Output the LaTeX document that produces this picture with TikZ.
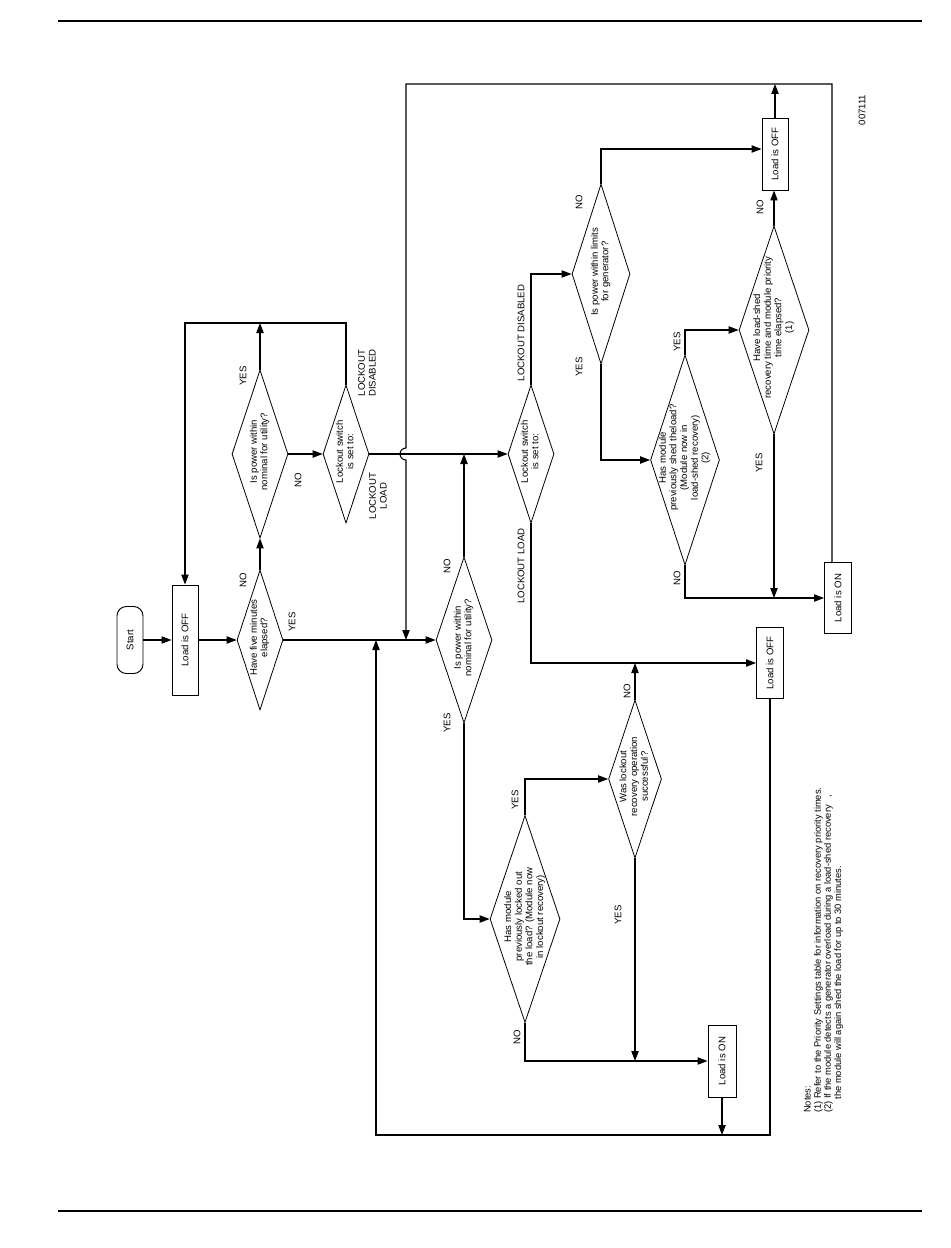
\documentclass[tikz,border=0pt]{standalone}
\usepackage{fontspec}
\setmainfont{Liberation Sans}
\usepackage{graphicx}
\usepackage{tikz}
\usetikzlibrary{arrows.meta,shapes.geometric}

\newcommand{\flowq}[1]{\smash{\makebox[0pt]{\rotatebox[origin=c]{90}{\begin{tabular}{@{}c@{}}#1\end{tabular}}}}}

\tikzset{
  flowbox/.style={draw, rectangle, inner sep=0pt, line width=0.7pt, minimum width=19.5pt},
  flowq/.style={draw, diamond, inner sep=0pt, line width=0.6pt},
  flowlbl/.style={rotate=90, inner sep=0pt, align=center},
  flowline/.style={line width=0.8pt, -{Triangle[length=7.5pt,width=5.5pt]}},
}

\begin{document}
\begin{tikzpicture}[x=0.75pt,y=0.75pt,yscale=-1,xscale=1,font=\fontsize{7.2}{8}\selectfont]
\useasboundingbox (0,0) rectangle (950,1248);

%Straight Lines: page rules
\draw [line width=1.5pt] (58,21.5) -- (922,21.5) ;
\draw [line width=1.5pt] (58,1211) -- (922,1211) ;

%Shape: Rounded Rect
\node [flowbox, rounded corners=7pt, minimum height=50.25pt] (start) at (130,640) {\rotatebox{90}{Start}};
%Shape: Rectangle
\node [flowbox, minimum height=82.5pt] (off1) at (185,640) {\rotatebox{90}{Load is OFF}};
%Shape: Diamond
\node [flowq, minimum width=34.5pt, minimum height=105pt] (d5min) at (260,640) {\flowq{Have five minutes\\elapsed?}};
%Shape: Diamond
\node [flowq, minimum width=42pt, minimum height=126pt] (dutil1) at (260,454) {\flowq{Is power within\\nominal for utility?}};
%Shape: Diamond
\node [flowq, minimum width=34.5pt, minimum height=103.5pt] (dsw1) at (346,454) {\flowq{Lockout switch\\is set to:}};
%Shape: Diamond
\node [flowq, minimum width=42pt, minimum height=124.5pt] (dutil2) at (464,640) {\flowq{Is power within\\nominal for utility?}};
%Shape: Diamond
\node [flowq, minimum width=34.5pt, minimum height=103.5pt] (dsw2) at (531,454) {\flowq{Lockout switch\\is set to:}};
%Shape: Diamond
\node [flowq, minimum width=43.5pt, minimum height=135pt] (dgen) at (601,274) {\flowq{Is power within limits\\for generator?}};
%Shape: Diamond
\node [flowq, minimum width=51.75pt, minimum height=157.5pt] (dshed) at (685,460) {\flowq{Has module\\previously shed theload?\\(Module now in\\load-shed recovery)\\(2)}};
%Shape: Diamond
\node [flowq, minimum width=52.5pt, minimum height=156pt] (dtime) at (774,330) {\flowq{Have load-shed\\recovery time and module priority\\time elapsed?\\(1)}};
%Shape: Rectangle
\node [flowbox, minimum height=54pt] (offtop) at (775,154) {\rotatebox{90}{Load is OFF}};
%Shape: Rectangle
\node [flowbox, minimum width=20.25pt, minimum height=53.25pt] (ontop) at (838,598) {\rotatebox{90}{Load is ON}};
%Shape: Rectangle
\node [flowbox, minimum width=20.25pt, minimum height=53.25pt] (offlow) at (770,663) {\rotatebox{90}{Load is OFF}};
%Shape: Diamond
\node [flowq, minimum width=52.5pt, minimum height=155.25pt] (dlock) at (525,919) {\flowq{Has module\\previously locked out\\the load? (Module now\\in lockout recovery)}};
%Shape: Diamond
\node [flowq, minimum width=39.75pt, minimum height=118.5pt] (drec) at (635,779) {\flowq{Was lockout\\recovery operation\\successful?}};
%Shape: Rectangle
\node [flowbox, minimum width=21pt, minimum height=54pt] (onlow) at (722,1061) {\rotatebox{90}{Load is ON}};

%Corner points
\coordinate (ltop) at (185,323) ;
\coordinate (rtop) at (832,84) ;
\coordinate (ltop2) at (406,84) ;
\coordinate (jmain) at (406,640) ;
\coordinate (lbot) at (376,1135) ;

%Straight Lines
\draw [flowline] (start.east) -- (off1.west) ;
\draw [flowline] (off1.east) -- (d5min.west) ;
\draw [flowline] (d5min.north) -- (dutil1.south) ;
\draw [flowline] (dutil1.north) -- (dutil1.north |- ltop) ;
\draw [flowline] (dsw1.north) |- (ltop) -- (off1.north) ;
\draw [flowline] (dutil1.east) -- (dsw1.west) ;
\draw [flowline] (dsw1.east) -- (dsw2.west) ;
\draw [flowline] (d5min.east) -- (dutil2.west) ;
\draw [flowline] (dutil2.north) -- (dutil2.north |- dsw1.east) ;
\draw [flowline] (ontop.north -| rtop) -- (rtop) -- (ltop2) -- (406,448) arc (270:90:6) -- (jmain) ;
\draw [flowline] (dsw2.north) |- (dgen.west) ;
\draw [flowline] (dgen.north) |- ([yshift=-3.75pt]offtop.west) ;
\draw [flowline] (offtop.north) -- (offtop.north |- ltop2) ;
\draw [flowline] (dgen.south) |- (dshed.west) ;
\draw [flowline] (dshed.north) |- (dtime.west) ;
\draw [flowline] (dtime.north) -- (dtime.north |- offtop.south) ;
\draw [flowline] (dtime.south) -- (dtime.south |- ontop.west) ;
\draw [flowline] (dshed.south) |- (ontop.west) ;
\draw [flowline] (dsw2.south) |- (offlow.west) ;
\draw [flowline] (drec.north) -- (drec.north |- offlow.west) ;
\draw [flowline] (dutil2.south) |- (dlock.west) ;
\draw [flowline] (dlock.north) |- (drec.west) ;
\draw [flowline] (drec.south) -- (drec.south |- onlow.west) ;
\draw [flowline] (dlock.south) |- (onlow.west) ;
\draw [flowline] (onlow.south) -- (onlow.south |- lbot) ;
\draw [flowline] (offlow.south) |- (lbot) -- (lbot |- d5min.east) ;

%Labels
\node [flowlbl] (l1) at (243,580) {NO};
\node [flowlbl] (l2) at (292,622) {YES};
\node [flowlbl] (l3) at (243,376) {YES};
\node [flowlbl] (l4) at (298,480) {NO};
\node [flowlbl] (l5) at (367,373) {LOCKOUT\\DISABLED};
\node [flowlbl] (l6) at (378,496) {LOCKOUT\\LOAD};
\node [flowlbl] (l7) at (447,566) {NO};
\node [flowlbl] (l8) at (447,723) {YES};
\node [flowlbl] (l9) at (521,333) {LOCKOUT DISABLED};
\node [flowlbl] (l10) at (521,566) {LOCKOUT LOAD};
\node [flowlbl] (l11) at (579,202) {NO};
\node [flowlbl] (l12) at (579,367) {YES};
\node [flowlbl] (l13) at (677,342) {YES};
\node [flowlbl] (l14) at (677,578) {NO};
\node [flowlbl] (l15) at (760,207) {NO};
\node [flowlbl] (l16) at (759,463) {YES};
\node [flowlbl] (l17) at (515,800) {YES};
\node [flowlbl] (l18) at (517,1037) {NO};
\node [flowlbl] (l19) at (627,691) {NO};
\node [flowlbl] (l20) at (618,915) {YES};
\node [flowlbl] (fignum) at (862,110) {007111};

%Notes
\node [rotate=90, anchor=north west, align=left, inner sep=0pt, font=\fontsize{7}{7.6}\selectfont] (notes) at (804,1113) {Notes:\\(1) Refer to the Priority Settings table for information on recovery priority times.\\(2) If the module detects a generator overload during a load-shed recovery\hspace{6pt},\\\hspace*{10pt}the module will again shed the load for up to 30 minutes.};

\end{tikzpicture}
\end{document}
